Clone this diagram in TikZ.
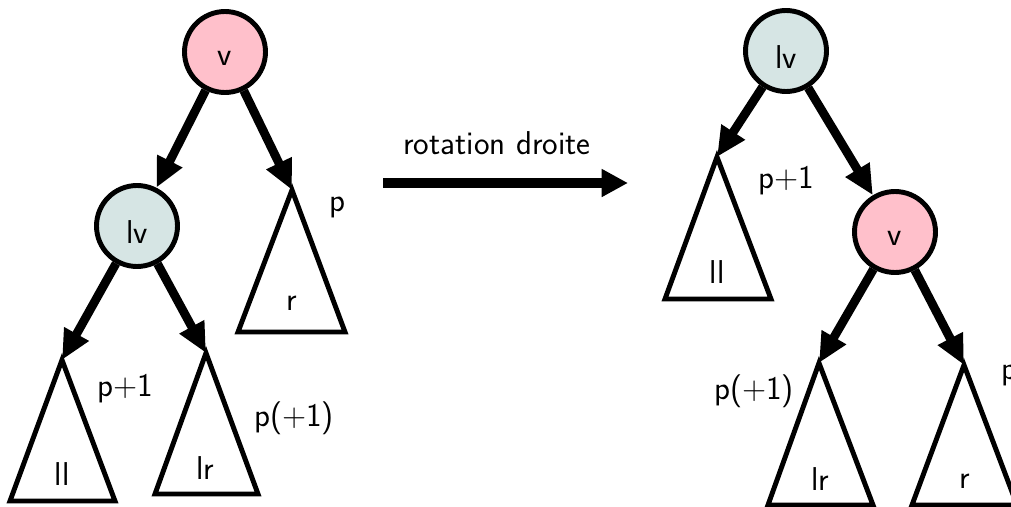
\documentclass[tikz,border=0pt]{standalone}
\usetikzlibrary{arrows.meta}
\definecolor{pinkv}{RGB}{255,192,203}
\definecolor{greylv}{RGB}{214,229,228}
\begin{document}
\begin{tikzpicture}[x=0.02cm,y=-0.02cm,
  font=\sffamily\fontsize{18.8}{22}\selectfont,
  circ/.style={circle, draw, line width=2.8pt, minimum size=1.62cm, inner sep=0pt},
  vcirc/.style={circ, fill=pinkv},
  lvcirc/.style={circ, fill=greylv},
  ctext/.style={yshift=-0.13cm},
  tarrow/.style={line width=5pt, -{Triangle[length=17pt,width=15pt]}},
  marrow/.style={line width=5.2pt, -{Triangle[length=15pt,width=15pt]}},
  subtree/.style={draw, line width=2.8pt, fill=white},
  lbl/.style={inner sep=0pt}]
\useasboundingbox (0,0) rectangle (1011,507);
\clip (0,0) rectangle (1011,507);

% ---------- left tree ----------
\node[vcirc, label={[ctext]center:v}] (vL) at (225,52) {};
\node[lvcirc, label={[ctext]center:lv}] (lvL) at (137,226) {};
\coordinate (rLa) at (292,190);
\coordinate (llLa) at (62,360);
\coordinate (lrLa) at (206,353);
\draw[subtree] (rLa) -- (238,332) -- (345,332) -- cycle;
\draw[subtree] (llLa) -- (10,501) -- (115,501) -- cycle;
\draw[subtree] (lrLa) -- (155,494) -- (258,494) -- cycle;
\node[lbl] (rLt) at (292,303) {r};
\node[lbl] (llLt) at (62,474) {ll};
\node[lbl] (lrLt) at (205,468) {lr};
\node[lbl] (pL) at (337,207) {p};
\node[lbl] (p1L) at (125,389) {p+1};
\node[lbl] (pp1L) at (294,418) {p(+1)};
\draw[tarrow] (vL) -- (lvL);
\draw[tarrow] (vL) -- (rLa);
\draw[tarrow] (lvL) -- (llLa);
\draw[tarrow] (lvL) -- (lrLa);

% ---------- middle arrow ----------
\coordinate (m1) at (383,183);
\coordinate (m2) at (628,183);
\draw[marrow] (m1) -- (m2);
\node[lbl] (rot) at (497,143) {rotation droite};

% ---------- right tree ----------
\node[lvcirc, label={[ctext]center:lv}] (lvR) at (786,51) {};
\node[vcirc, label={[ctext]center:v}] (vR) at (895,232) {};
\coordinate (llRa) at (717,157);
\coordinate (lrRa) at (819,363);
\coordinate (rRa) at (964,365);
\draw[subtree] (llRa) -- (665,299) -- (771,299) -- cycle;
\draw[subtree] (lrRa) -- (768,505) -- (873,505) -- cycle;
\draw[subtree] (rRa) -- (912,505) -- (1017,505) -- cycle;
\node[lbl] (llRt) at (717,272) {ll};
\node[lbl] (lrRt) at (820,479) {lr};
\node[lbl] (rRt) at (965,481) {r};
\node[lbl] (p1R) at (786,181) {p+1};
\node[lbl] (pp1R) at (754,391) {p(+1)};
\node[lbl] (pR) at (1009,375) {p};
\draw[tarrow] (lvR) -- (llRa);
\draw[tarrow] (lvR) -- (vR);
\draw[tarrow] (vR) -- (lrRa);
\draw[tarrow] (vR) -- (rRa);
\end{tikzpicture}
\end{document}
